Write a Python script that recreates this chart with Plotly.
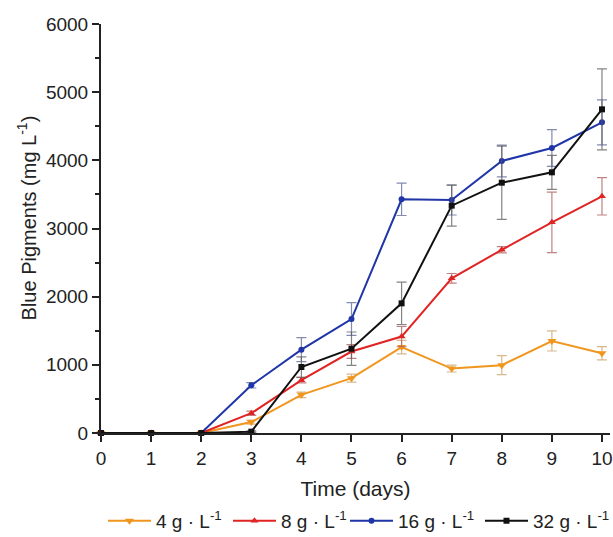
import plotly.graph_objects as go

days = [0, 1, 2, 3, 4, 5, 6, 7, 8, 9, 10]

names = ["4 g · L<sup>-1</sup>", "8 g · L<sup>-1</sup>", "16 g · L<sup>-1</sup>", "32 g · L<sup>-1</sup>"]

y4 = [0, 0, 0, 160, 560, 805, 1260, 945, 995, 1350, 1170]
e4 = [0, 0, 0, 30, 40, 60, 100, 50, 140, 147, 98]

y8 = [0, 0, 0, 290, 775, 1195, 1415, 2270, 2688, 3090, 3472]
e8 = [0, 0, 0, 30, 40, 100, 150, 70, 45, 445, 274]

y16 = [0, 0, 0, 700, 1222, 1672, 3428, 3418, 3990, 4181, 4558]
e16 = [0, 0, 0, 40, 176, 240, 237, 220, 232, 270, 330]

y32 = [0, 0, 0, 20, 968, 1237, 1902, 3335, 3672, 3824, 4748]
e32 = [0, 0, 0, 10, 150, 245, 310, 300, 537, 250, 594]

colors = ["#f0961e", "#e02424", "#1f35a8", "#111111"]
err_colors = ["rgba(200,160,100,0.75)", "rgba(170,90,90,0.75)", "rgba(90,100,150,0.75)", "rgba(90,90,90,0.75)"]
symbols = ["triangle-down", "triangle-up", "circle", "square"]
sizes = [8, 7, 6, 6]
legend_ids = ["legend", "legend2", "legend3", "legend4"]
legend_x = [103, 228, 345, 480]

fig = go.Figure()
for ys, es, nm, c, ec, sym, sz, lg in zip([y4, y8, y16, y32], [e4, e8, e16, e32], names, colors, err_colors, symbols, sizes, legend_ids):
    fig.add_trace(go.Scatter(
        x=days, y=ys, name=nm, mode="lines+markers", legend=lg,
        line=dict(color=c, width=2),
        marker=dict(symbol=sym, size=sz, color=c),
        error_y=dict(type="data", array=es, color=ec, thickness=1.2, width=5),
        cliponaxis=False,
    ))

fig.add_annotation(text="Blue Pigments (mg L<sup>-1</sup>)", textangle=-90,
                   xref="paper", yref="paper", x=-74 / 512, y=(433 - 218) / 409,
                   xanchor="center", yanchor="middle", showarrow=False,
                   font=dict(size=20))

legend_style = dict(orientation="h", xanchor="left", xref="container",
                    y=0.03, yanchor="middle", yref="container",
                    font=dict(size=19), itemwidth=43,
                    bgcolor="rgba(0,0,0,0)")

fig.update_layout(
    width=613, height=537,
    margin=dict(l=101, r=0, t=24, b=104),
    plot_bgcolor="white", paper_bgcolor="white",
    font=dict(family="Liberation Sans, Arial, sans-serif", size=19, color="#222"),
    showlegend=True,
    xaxis=dict(range=[0, 10.16], tickmode="array", tickvals=days,
               ticks="outside", ticklen=7, tickwidth=2, tickcolor="#222",
               ticklabeloverflow="allow",
               showline=True, linecolor="#222", linewidth=2,
               showgrid=False, zeroline=False,
               title=dict(text="Time (days)", font=dict(size=21), standoff=14)),
    yaxis=dict(range=[0, 6000], tickvals=[0, 1000, 2000, 3000, 4000, 5000, 6000],
               ticks="outside", ticklen=7, tickwidth=2, tickcolor="#222",
               minor=dict(tickvals=[500, 1500, 2500, 3500, 4500, 5500], ticks="outside", ticklen=4, tickwidth=2, tickcolor="#222"),
               showline=True, linecolor="#222", linewidth=2,
               showgrid=False, zeroline=False),
)
for lg, lx in zip(legend_ids, legend_x):
    fig.update_layout({lg: dict(legend_style, x=lx / 613)})

fig.write_html("out.html")
